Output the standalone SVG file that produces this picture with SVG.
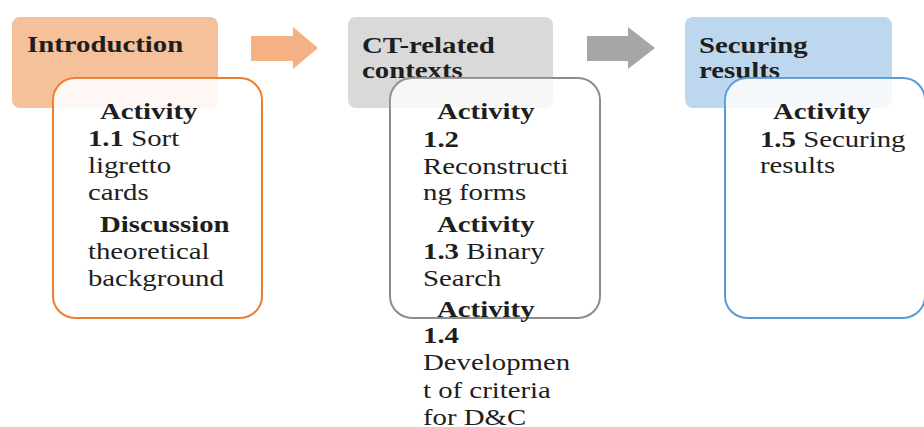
<svg xmlns="http://www.w3.org/2000/svg" width="924" height="427" viewBox="0 0 924 427">
<style>
.t{font-family:"Liberation Serif","Times New Roman",serif;font-size:24px;fill:#1e1e1e}
.b{font-weight:bold}
.inner{fill:#ffffff;stroke-width:2}
</style>
<defs>
<clipPath id="c1"><rect x="53" y="78" width="209" height="240" rx="22"/></clipPath>
<clipPath id="c2"><rect x="390" y="78" width="210" height="240" rx="22"/></clipPath>
<clipPath id="c3"><rect x="725" y="78" width="200" height="240" rx="22"/></clipPath>
</defs>
<rect width="924" height="427" fill="#ffffff"/>
<g id="connectors">
<polygon points="251,36 293,36 293,27 318,48 293,69 293,61 251,61" fill="#f4b183"/>
<polygon points="587,36 628,36 628,27 655,48 628,69 628,61 587,61" fill="#a6a6a6"/>
</g>
<g id="introduction">
<rect x="12" y="17" width="206" height="91" rx="8" fill="#f5c19b"/>
<text class="t b" transform="scale(1.2 1)" x="22.5" y="52">Introduction</text>
<g id="activity-1-1">
<rect class="inner" x="53" y="78" width="209" height="240" rx="22" stroke="#ed7d31"/>
<rect x="12" y="17" width="206" height="91" rx="8" fill="#f5c19b" opacity="0.12" clip-path="url(#c1)"/>
<g class="t" transform="scale(1.2 1)">
<text class="b" x="83.3" y="119">Activity</text>
<text x="73.3" y="146"><tspan class="b">1.1</tspan> Sort</text>
<text x="73.3" y="173">ligretto</text>
<text x="73.3" y="200">cards</text>
<text class="b" x="83.3" y="232">Discussion</text>
<text x="73.3" y="259">theoretical</text>
<text x="73.3" y="286">background</text>
</g>
</g>
</g>
<g id="ct-related">
<rect x="348" y="17" width="205" height="91" rx="8" fill="#d9d9d9"/>
<g class="t b" transform="scale(1.2 1)">
<text x="301.7" y="53">CT-related</text>
<text x="301.7" y="78">contexts</text>
</g>
<g id="activity-1-2-1-4">
<rect class="inner" x="390" y="78" width="210" height="240" rx="22" stroke="#8c8c8c"/>
<rect x="348" y="17" width="205" height="91" rx="8" fill="#d9d9d9" opacity="0.2" clip-path="url(#c2)"/>
<g class="t" transform="scale(1.2 1)">
<text class="b" x="364.2" y="119">Activity</text>
<text class="b" x="352.5" y="147">1.2</text>
<text x="352.5" y="174">Reconstructi</text>
<text x="352.5" y="200">ng forms</text>
<text class="b" x="364.2" y="232">Activity</text>
<text x="352.5" y="259"><tspan class="b">1.3</tspan> Binary</text>
<text x="352.5" y="286">Search</text>
<text class="b" x="364.2" y="317">Activity</text>
<text class="b" x="352.5" y="343">1.4</text>
<text x="352.5" y="370">Developmen</text>
<text x="352.5" y="398">t of criteria</text>
<text x="352.5" y="425">for D&amp;C</text>
</g>
</g>
</g>
<g id="securing">
<rect x="685" y="17" width="207" height="91" rx="8" fill="#bdd7ee"/>
<g class="t b" transform="scale(1.2 1)">
<text x="582.5" y="53">Securing</text>
<text x="582.5" y="78">results</text>
</g>
<g id="activity-1-5">
<rect class="inner" x="725" y="78" width="200" height="240" rx="22" stroke="#5b9bd5"/>
<rect x="685" y="17" width="207" height="91" rx="8" fill="#bdd7ee" opacity="0.15" clip-path="url(#c3)"/>
<g class="t" transform="scale(1.2 1)">
<text class="b" x="644.2" y="119">Activity</text>
<text x="633.3" y="147"><tspan class="b">1.5</tspan> Securing</text>
<text x="633.3" y="173">results</text>
</g>
</g>
</g>
</svg>
